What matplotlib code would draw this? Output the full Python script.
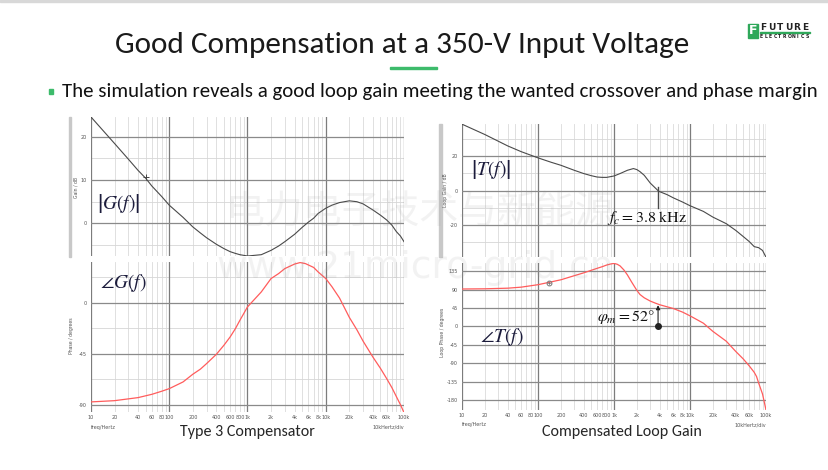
import matplotlib
matplotlib.use("Agg")
import matplotlib.pyplot as plt
from matplotlib.patches import Rectangle

plt.rcParams['mathtext.fontset'] = 'stix'

W, H = 829, 470
SANS = ['Carlito', 'Lato', 'DejaVu Sans']

# ---- data ----
# Type 3 compensator
g_freq = [10, 20, 30, 40, 50, 60, 80, 100, 150, 200, 250, 300, 400, 500, 600, 700, 800,
          1e3, 1.5e3, 2e3, 2.5e3, 3e3, 4e3, 5e3, 6e3, 7e3, 8e3, 1e4, 1.2e4, 1.5e4, 2e4,
          2.5e4, 3e4, 4e4, 5e4, 6e4, 7e4, 8e4, 9e4, 1e5]
g_gain = [24.5, 18.4, 14.8, 12.2, 10.4, 8.6, 6.2, 4.2, 1.4, -0.8, -2.2, -3.3, -4.8, -5.8,
          -6.5, -6.9, -7.2, -7.5, -7.2, -6.2, -5.2, -4.2, -2.5, -0.9, 0.3, 1.2, 2.3, 3.5,
          4.2, 4.8, 5.2, 5.0, 4.5, 3.1, 1.9, 0.8, -0.4, -1.9, -2.9, -4.2]
gp_freq = [10, 20, 40, 60, 80, 100, 150, 200, 250, 300, 400, 500, 600, 700, 800, 1e3,
           1.5e3, 2e3, 2.5e3, 3e3, 4e3, 4.7e3, 5.5e3, 7e3, 8e3, 1e4, 1.2e4, 1.5e4, 2e4,
           2.5e4, 3e4, 4e4, 5e4, 6e4, 7e4, 8e4, 9e4, 1e5]
g_phase = [-87.6, -86.5, -83.8, -80.9, -78.2, -75.9, -70.0, -63.2, -58.7, -53.8, -45.6,
           -37.6, -30.3, -23.0, -15.6, -3.8, 9.4, 21.2, 25.6, 30.0, 34.0, 35.3, 34.4,
           31.0, 27.0, 21.2, 14.0, 4.0, -13.0, -24.0, -34.0, -48.0, -58.0, -67.0, -75.0,
           -83.0, -90.0, -97.0]

# compensated loop gain
t_freq = [10, 20, 40, 60, 100, 150, 200, 300, 400, 500, 600, 700, 800, 1e3, 1.2e3, 1.5e3,
          1.8e3, 2e3, 2.2e3, 2.5e3, 3e3, 3.8e3, 4e3, 5e3, 6e3, 8e3, 1e4, 1.5e4, 2e4, 3e4,
          4e4, 5e4, 6e4, 7e4, 8e4, 9e4, 1e5]
t_gain = [38.5, 32.5, 25.9, 22.6, 19.0, 16.4, 14.7, 11.8, 9.9, 8.7, 7.9, 7.7, 7.7, 8.5,
          9.9, 11.8, 12.8, 12.2, 11.0, 8.9, 4.4, 0.0, -0.6, -2.3, -4.1, -6.6, -8.7, -12.0,
          -15.3, -19.1, -23.0, -26.5, -29.4, -32.4, -33.0, -34.6, -38.5]
tp_freq = [10, 20, 40, 60, 100, 200, 300, 400, 600, 700, 800, 900, 1e3, 1.1e3, 1.2e3,
           1.35e3, 1.5e3, 1.7e3, 2e3, 2.2e3, 2.5e3, 3e3, 3.5e3, 4e3, 5e3, 6e3, 8e3, 1e4,
           1.5e4, 2e4, 3e4, 4e4, 5e4, 6e4, 7e4, 7.5e4, 8e4, 9e4, 1e5]
t_phase = [91.5, 92.0, 93.5, 96.0, 102.0, 114.0, 124.0, 131.0, 142.0, 146.0, 150.0,
           152.5, 154.0, 152.0, 148.0, 138.0, 126.0, 109.0, 88.0, 78.0, 70.0, 62.0, 57.0,
           53.0, 48.0, 44.0, 35.0, 26.0, 8.0, -12.0, -36.0, -61.0, -79.0, -96.0, -112.0,
           -122.0, -138.0, -165.0, -204.0]

fc = 3.8e3
pm = 52

x_ticks = [10, 20, 40, 60, 80, 100, 200, 400, 600, 800, 1e3, 2e3, 4e3, 6e3, 8e3, 1e4,
           2e4, 4e4, 6e4, 1e5]
x_labels = ['10', '20', '40', '60', '80', '100', '200', '400', '600', '800', '1k', '2k',
            '4k', '6k', '8k', '10k', '20k', '40k', '60k', '100k']

fig = plt.figure(figsize=(W / 100, H / 100), dpi=100)
fig.patch.set_facecolor('white')


def px_axes(x0, y0, x1, y1):
    return fig.add_axes([x0 / W, 1 - y1 / H, (x1 - x0) / W, (y1 - y0) / H])


def px_text(x, y, s, **kw):
    return fig.text(x / W, 1 - y / H, s, **kw)


def bode_grid(ax, ylim, ymajor, yminor, bottom):
    ax.set_xscale('log')
    ax.set_xlim(10, 1e5)
    ax.set_ylim(*ylim)
    for s in ax.spines.values():
        s.set_visible(False)
    for dec in [10, 100, 1e3, 1e4]:
        for m in range(2, 10):
            ax.axvline(dec * m, color='#dadada', lw=0.6, zorder=0)
    for dec in [10, 100, 1e3, 1e4, 1e5]:
        ax.axvline(dec, color='#7c7c7c', lw=0.9, zorder=1)
    for y in yminor:
        ax.axhline(y, color='#d6d6d6', lw=0.6, zorder=0)
    for y in ymajor:
        ax.axhline(y, color='#8a8a8a', lw=0.9, zorder=1)
    ax.set_yticks(ymajor, [str(v) for v in ymajor])
    ax.tick_params(axis='y', length=0, labelsize=3.5, labelcolor='#555555', pad=3)
    if bottom:
        ax.set_xticks(x_ticks, x_labels)
        ax.set_xticks([], minor=True)
        ax.tick_params(axis='x', length=0, labelsize=3.5, labelcolor='#555555', pad=2.5)
    else:
        ax.set_xticks([])
        ax.set_xticks([], minor=True)


def ylab(x, y, s):
    px_text(x, y, s, fontsize=3.3, color='#555555', rotation=90, ha='center', va='center')


# ---- left: Type 3 compensator ----
ax1 = px_axes(91, 117, 404, 256)
bode_grid(ax1, (-7.5, 24.5), [0, 10, 20], [-5, 5, 15], False)
ax1.plot(g_freq, g_gain, color='#4a4a4a', lw=0.8, zorder=3)
ax1.plot([50], [10.6], marker='+', ms=5, mew=0.7, color='#444444', zorder=4)
ax1.text(0.02, 0.375, r'$\left|G\left(f\right)\right|$', transform=ax1.transAxes,
         fontsize=14, color='#1c1c3c', va='center', ha='left', zorder=5)
ylab(76, 187, 'Gain / dB')

ax2 = px_axes(91, 262, 404, 412)
bode_grid(ax2, (-96.5, 35.8), [-90, -45, 0], [-67.5, -22.5, 22.5], True)
ax2.plot(gp_freq, g_phase, color='#ff5c5c', lw=0.9, zorder=3)
ax2.text(0.03, 0.863, r'$\angle G\left(f\right)$', transform=ax2.transAxes,
         fontsize=14, color='#1c1c3c', va='center', ha='left', zorder=5)
ylab(72, 336, 'Phase / degrees')

# ---- right: compensated loop gain ----
ax3 = px_axes(462, 124, 766, 257)
bode_grid(ax3, (-38.4, 38.6), [-20, 0, 20], [-30, -10, 10, 30], False)
ax3.plot(t_freq, t_gain, color='#4a4a4a', lw=0.8, zorder=3)
ax3.plot([fc, fc], [2, -10], color='#4a4a4a', lw=1.0, zorder=4)
ax3.text(0.03, 0.66, r'$\left|T\left(f\right)\right|$', transform=ax3.transAxes,
         fontsize=14, color='#1c1c3c', va='center', ha='left', zorder=5)
ax3.text(810, -16, r'$f_c = 3.8\ \mathrm{kHz}$', fontsize=11.5, color='#111111',
         va='center', ha='left', zorder=5)
ylab(446, 190, 'Loop Gain / dB')

ax4 = px_axes(462, 263, 766, 410)
bode_grid(ax4, (-204, 155), [-180, -135, -90, -45, 0, 45, 90, 135], [], True)
ax4.plot(tp_freq, t_phase, color='#ff5c5c', lw=0.9, zorder=3)
ax4.plot([138], [105], marker='o', ms=3.5, mfc='none', mec='#777777', mew=0.7, zorder=4)
ax4.plot([138], [105], marker='+', ms=3.5, mew=0.5, color='#777777', zorder=4)
ax4.annotate('', xy=(fc, pm), xytext=(fc, 0),
             arrowprops=dict(arrowstyle='-|>', color='#222222', lw=0.8,
                             mutation_scale=6, shrinkA=0, shrinkB=0), zorder=5)
ax4.plot([fc], [0], marker='o', ms=4, color='#222222', zorder=5)
ax4.text(0.06, -25, r'$\angle T\left(f\right)$', transform=ax4.get_yaxis_transform(),
         fontsize=14, color='#1c1c3c', va='center', ha='left', zorder=5)
ax4.text(600, 23, r'$\varphi_m = 52\degree$', fontsize=11.5, color='#111111',
         va='center', ha='left', zorder=5)
ylab(443, 332, 'Loop Phase / degrees')

# axis footers
for ax in [ax2, ax4]:
    ax.text(0, -0.10, 'freq/Hertz', transform=ax.transAxes, fontsize=3.5,
            color='#555555', ha='left', va='center')
    ax.text(1, -0.10, '10kHertz/div', transform=ax.transAxes, fontsize=3.5,
            color='#555555', ha='right', va='center')
px_text(247, 432, 'Type 3 Compensator', fontsize=11.5, family=SANS, color='#262626',
        ha='center', va='center')
px_text(622, 432, 'Compensated Loop Gain', fontsize=11.5, family=SANS, color='#262626',
        ha='center', va='center')

# gray side bars
for x, y0, y1 in [(69, 117, 257), (439, 124, 257)]:
    fig.add_artist(Rectangle((x / W, 1 - y1 / H), 2.5 / W, (y1 - y0) / H,
                             color='#c8c8c8', transform=fig.transFigure))

# ---- slide header ----
fig.add_artist(Rectangle((0, 1 - 2 / H), 1, 2 / H, color='#d8d8d8',
                         transform=fig.transFigure))
px_text(402, 45, 'Good Compensation at a 350-V Input Voltage', fontsize=22.5,
        family=SANS, color='#1a1a1a', ha='center', va='center')
fig.add_artist(Rectangle((390 / W, 1 - 69 / H), 47 / W, 2.2 / H, color='#3dbb6b',
                         transform=fig.transFigure))
fig.add_artist(Rectangle((49 / W, 1 - 94 / H), 4.5 / W, 5 / H, color='#3dbb6b',
                         transform=fig.transFigure))
px_text(62, 91,
        'The simulation reveals a good loop gain meeting the wanted crossover and phase margin',
        fontsize=15, family=SANS, color='#111111', ha='left', va='center')

# logo
fig.add_artist(Rectangle((748 / W, 1 - 38 / H), 10 / W, 14 / H, color='#2fa85a',
                         transform=fig.transFigure))
px_text(753, 31, 'F', fontsize=9, weight='bold', color='white', ha='center', va='center')
for i, ch in enumerate('FUTURE'):
    px_text(760 + i * 8.4, 28, ch, fontsize=6.5, weight='bold', color='#222222',
            ha='left', va='center')
fig.add_artist(Rectangle((760 / W, 1 - 33 / H), 50 / W, 1 / H, color='#2fa85a',
                         transform=fig.transFigure))
for i, ch in enumerate('ELECTRONICS'):
    px_text(760 + i * 4.55, 36.5, ch, fontsize=3.3, weight='bold', color='#222222',
            ha='left', va='center')

# watermark
px_text(420, 213, '电力电子技术与新能源', fontsize=28,
        family=['Noto Sans CJK SC', 'DejaVu Sans'], color='#9a9a9a', alpha=0.12,
        ha='center', va='center', zorder=10)
px_text(415, 268, 'www.21micro-grid.cn', fontsize=27, color='#9a9a9a', alpha=0.12,
        ha='center', va='center', zorder=10)

fig.savefig('out.png', dpi=100)
